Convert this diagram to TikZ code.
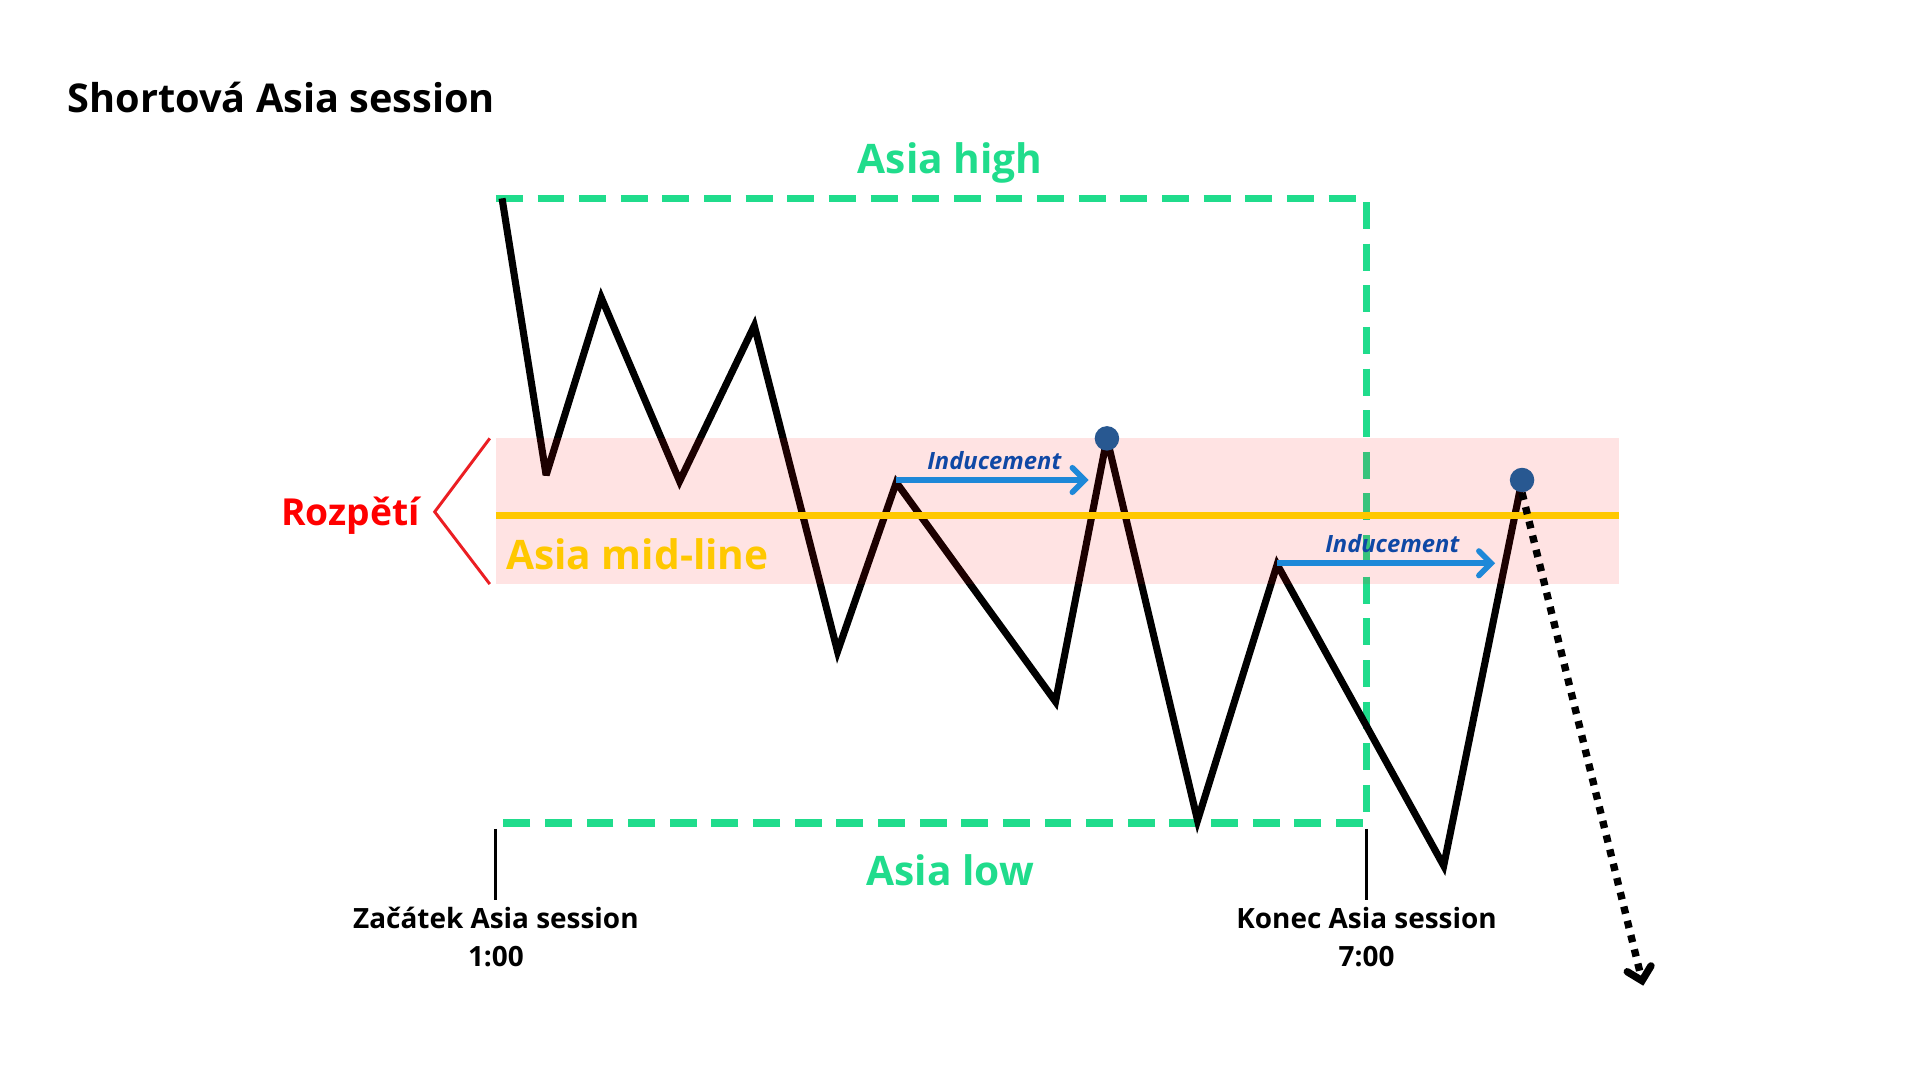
\documentclass[tikz,border=0pt]{standalone}
\usepackage{fontspec}
\setmainfont{Open Sans}
\usetikzlibrary{arrows.meta}
\definecolor{agreen}{RGB}{32,220,140}
\definecolor{ayellow}{RGB}{255,200,0}
\definecolor{ablue}{RGB}{30,136,216}
\definecolor{atext}{RGB}{15,72,165}
\definecolor{adot}{RGB}{40,88,145}
\definecolor{ared}{RGB}{255,0,0}
\definecolor{abrack}{RGB}{235,30,35}
\tikzset{
  biglabel/.style={font=\fontsize{16.6}{20}\selectfont\bfseries, inner sep=0pt},
  smalllabel/.style={font=\fontsize{11.4}{14}\selectfont\bfseries, inner sep=0pt, align=center},
  indlabel/.style={font=\fontsize{9.7}{12}\selectfont\bfseries\itshape, text=atext, inner sep=0pt},
  boxline/.style={agreen, line width=3pt, dash pattern=on 11pt off 6pt},
  price/.style={black, line width=2.9pt, line join=miter, miter limit=4},
  indarrow/.style={ablue, line width=2.3pt, -{Straight Barb[length=5pt,width=10pt,line cap=round]}},
  tick/.style={black, line width=1.25pt},
  pdot/.style={circle, fill=adot, minimum size=10pt, inner sep=0pt},
}
\begin{document}
\begin{tikzpicture}[x=0.5pt, y=-0.5pt]
\useasboundingbox (0,0) rectangle (1568,882);
% title
\node[biglabel, font=\fontsize{16.2}{20}\selectfont\bfseries, anchor=west] (title) at (55,80) {Shortová Asia session};
% green box
\coordinate (bl) at (405,672);
\coordinate (tl) at (405,162);
\coordinate (tr) at (1116,162);
\coordinate (br) at (1116,672);
\draw[boxline] (tl) -- (tr) -- (br) -- (bl);
\node[biglabel, text=agreen] (high) at (776,133) {Asia high};
\node[biglabel, text=agreen] (low) at (776,711) {Asia low};
% price path
\coordinate (p0) at (410,162);
\coordinate (p1) at (446,388);
\coordinate (p2) at (491,243);
\coordinate (p3) at (555,393);
\coordinate (p4) at (616,266);
\coordinate (p5) at (684,532);
\coordinate (p6) at (732,394);
\coordinate (p7) at (862,573);
\coordinate (p8) at (904,358);
\coordinate (p9) at (978,670);
\coordinate (p10) at (1043,461);
\coordinate (p11) at (1179,707);
\coordinate (p12) at (1243,392);
\draw[price] (p0) -- (p1) -- (p2) -- (p3) -- (p4) -- (p5) -- (p6) -- (p7) -- (p8) -- (p9) -- (p10) -- (p11) -- (p12);
% range band
\fill[ared, opacity=0.11] (405,358) rectangle (1322,477);
\draw[ayellow, line width=3pt] (405,421) -- (1322,421);
\node[biglabel, text=ayellow, anchor=west] (mid) at (413,453) {Asia mid-line};
% bracket
\coordinate (b1) at (400,358);
\coordinate (b2) at (355,418);
\coordinate (b3) at (400,477);
\draw[abrack, line width=1.2pt] (b1) -- (b2) -- (b3);
\node[font=\fontsize{15.2}{18}\selectfont\bfseries, text=ared, inner sep=0pt, anchor=east] (rozp) at (343,421) {Rozpětí};
% inducement arrows
\coordinate (i1s) at (732,392);
\coordinate (i1e) at (889,392);
\draw[indarrow] (i1s) -- (i1e);
\node[indlabel] (ind1) at (812,376) {Inducement};
\coordinate (i2s) at (1043,460);
\coordinate (i2e) at (1221,460);
\draw[indarrow] (i2s) -- (i2e);
\node[indlabel] (ind2) at (1137,444) {Inducement};
% dots
\node[pdot] (d1) at (p8) {};
\node[pdot] (d2) at (p12) {};
% dotted continuation
\coordinate (dend) at (1342,805);
\draw[black, line width=3pt, dash pattern=on 3pt off 3pt, -{Straight Barb[length=5pt,width=10pt,line cap=round]}] (d2.south) -- (dend);
% session ticks
\coordinate (t1a) at (405,677);
\coordinate (t1b) at (405,735);
\coordinate (t2a) at (1116,677);
\coordinate (t2b) at (1116,735);
\draw[tick] (t1a) -- (t1b);
\draw[tick] (t2a) -- (t2b);
\node[smalllabel] (start) at (405,750) {Začátek Asia session};
\node[smalllabel] (start2) at (405,781) {1:00};
\node[smalllabel] (end) at (1116,750) {Konec Asia session};
\node[smalllabel] (end2) at (1116,781) {7:00};
\end{tikzpicture}
\end{document}
